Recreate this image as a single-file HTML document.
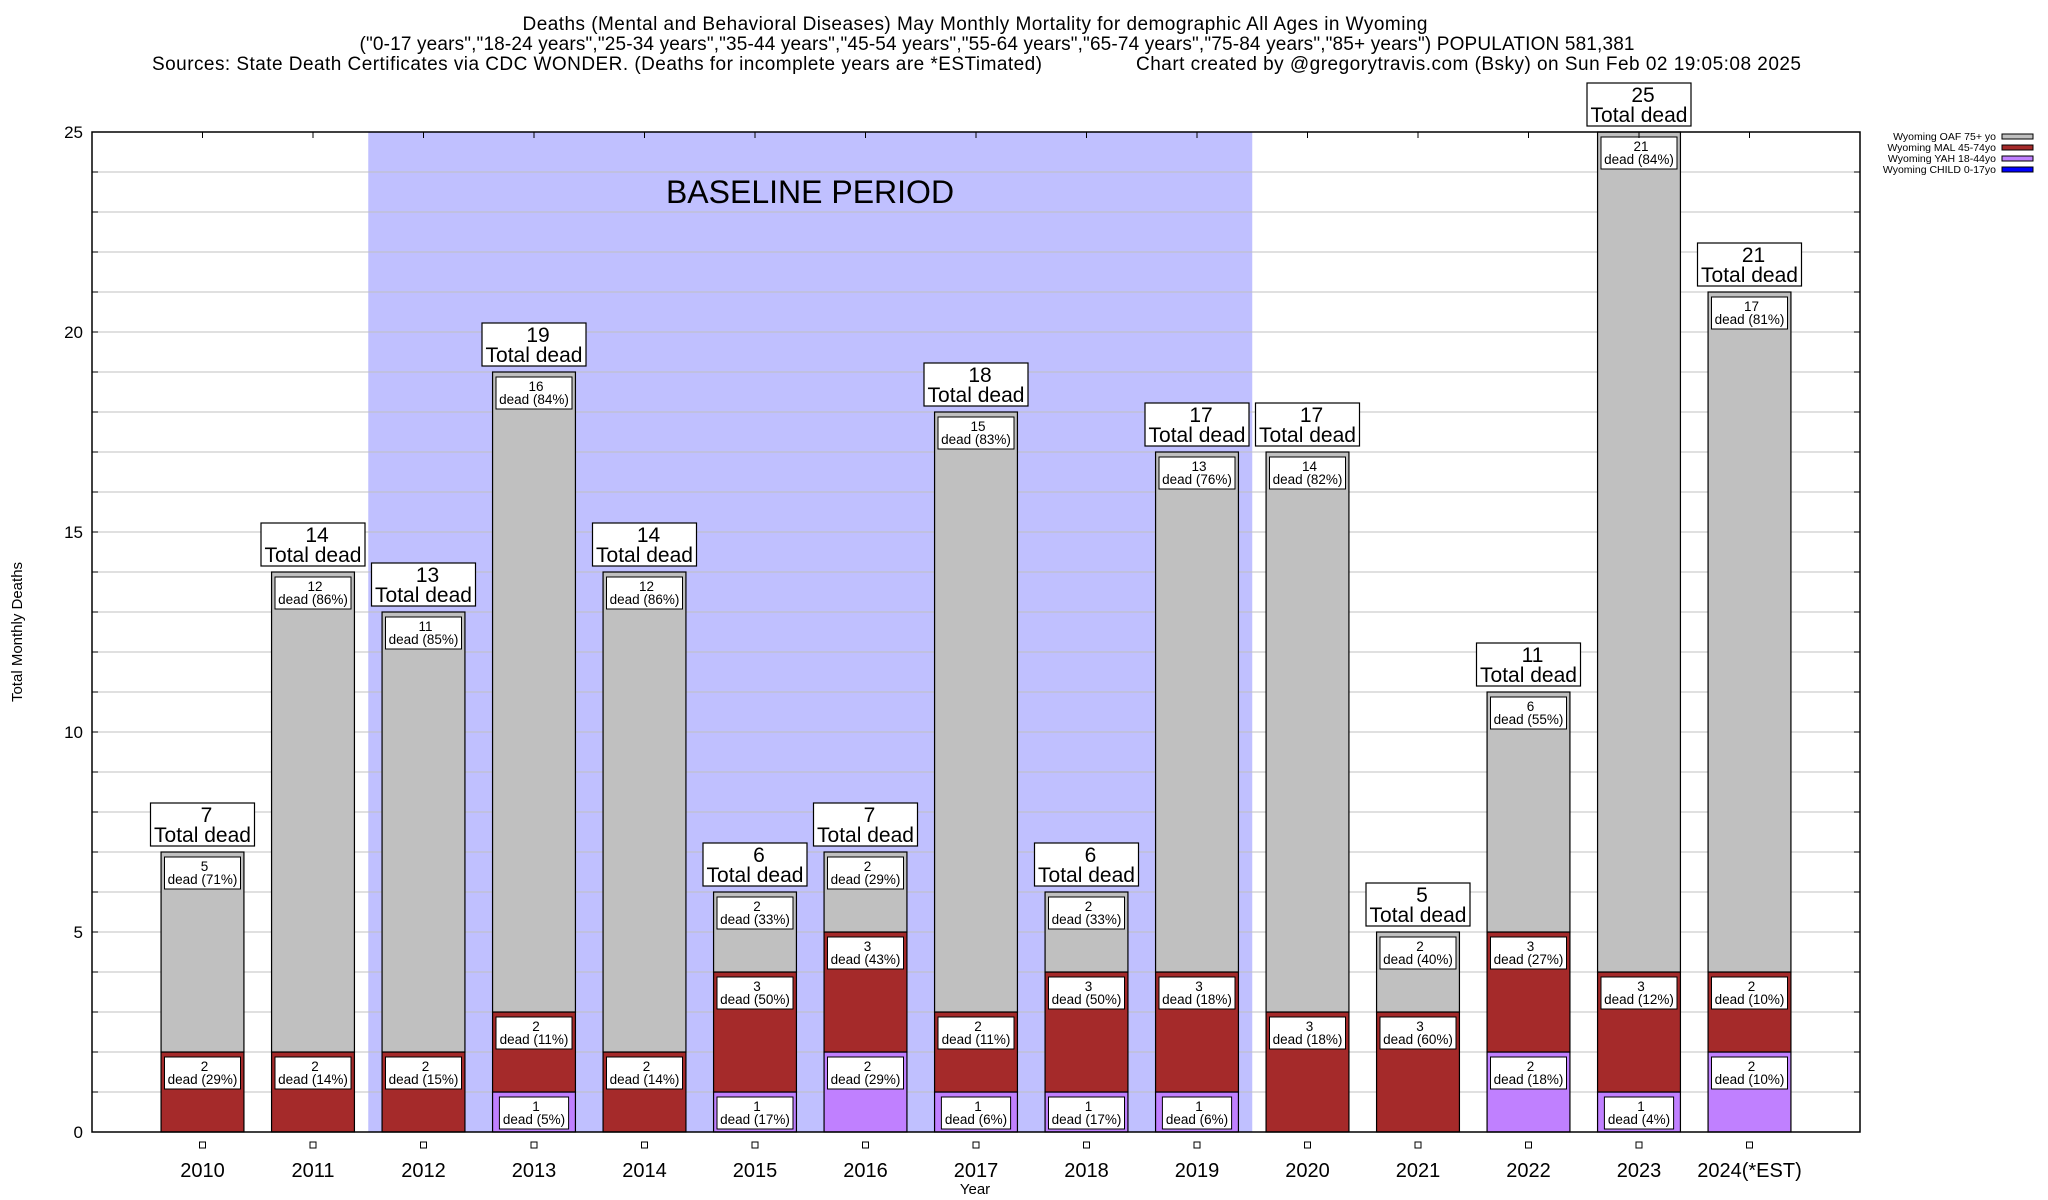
<!DOCTYPE html>
<html><head><meta charset="utf-8"><style>
html,body{margin:0;padding:0;background:#fff;}
svg{display:block;font-family:"Liberation Sans",Arial,sans-serif;}
</style></head><body>
<svg id="chart" width="2048" height="1200" viewBox="0 0 2048 1200">
<g>
<text x="975" y="30" text-anchor="middle" font-size="19" textLength="905">Deaths (Mental and Behavioral Diseases) May Monthly Mortality for demographic All Ages in Wyoming</text>
<text x="997" y="50" text-anchor="middle" font-size="19" textLength="1275">("0-17 years","18-24 years","25-34 years","35-44 years","45-54 years","55-64 years","65-74 years","75-84 years","85+ years") POPULATION 581,381</text>
<text x="152" y="70" font-size="19" textLength="890">Sources: State Death Certificates via CDC WONDER. (Deaths for incomplete years are *ESTimated)</text>
<text x="1136" y="70" font-size="19" textLength="665">Chart created by @gregorytravis.com (Bsky) on Sun Feb 02 19:05:08 2025</text>
</g>
<g id="plot"></g>
<text x="975" y="1194" text-anchor="middle" font-size="15">Year</text>
<text transform="translate(22,632) rotate(-90)" text-anchor="middle" font-size="15">Total Monthly Deaths</text>
<g>
<text x="1996" y="140" text-anchor="end" font-size="10.5">Wyoming OAF 75+ yo</text>
<rect x="2002" y="134" width="31" height="5" fill="#c0c0c0" stroke="#000"/>
<text x="1996" y="151" text-anchor="end" font-size="10.5">Wyoming MAL 45-74yo</text>
<rect x="2002" y="145" width="31" height="5" fill="#a52a2a" stroke="#000"/>
<text x="1996" y="162" text-anchor="end" font-size="10.5">Wyoming YAH 18-44yo</text>
<rect x="2002" y="156" width="31" height="5" fill="#c080ff" stroke="#000"/>
<text x="1996" y="173" text-anchor="end" font-size="10.5">Wyoming CHILD 0-17yo</text>
<rect x="2002" y="167" width="31" height="5" fill="#0000ff" stroke="#000"/>
</g>
</svg>
<script>
const years = ["2010","2011","2012","2013","2014","2015","2016","2017","2018","2019","2020","2021","2022","2023","2024(*EST)"];
const child = [0,0,0,0,0,0,0,0,0,0,0,0,0,0,0];
const yah = [0,0,0,1,0,1,2,1,1,1,0,0,2,1,2];
const mal = [2,2,2,2,2,3,3,2,3,3,3,3,3,3,2];
const oaf = [5,12,11,16,12,2,2,15,2,13,14,2,6,21,17];
const yTicks = [0,5,10,15,20,25];
const baselineRange = [1.5, 9.5];

const NS = "http://www.w3.org/2000/svg";
const L = 92, R = 1860, T = 132, B = 1132;
const yMax = 25;
function y(v){ return B - (v / yMax) * (B - T); }
function x(i){ return L + (i + 1) * (R - L) / 16; }
const step = (R - L) / 16, bw = step * 0.75;
const plot = document.getElementById('plot');
function el(tag, attrs, parent){
  const e = document.createElementNS(NS, tag);
  for (const k in attrs) e.setAttribute(k, attrs[k]);
  (parent || plot).appendChild(e);
  return e;
}

const shade = el('rect', {x: x(baselineRange[0]), y: T, width: x(baselineRange[1]) - x(baselineRange[0]), height: B - T, fill: '#c0c0ff'});



for (let v = 1; v < yMax; v++) {
  const g = el('line', {x1: L, x2: R, y1: y(v), y2: y(v), stroke: '#c0c0c0', 'stroke-width': 1});
  
  
  const t = el('line', {x1: L, x2: L + 6, y1: y(v), y2: y(v), stroke: '#000'});
  
  
  const t2 = el('line', {x1: R - 6, x2: R, y1: y(v), y2: y(v), stroke: '#000'});
  
  
}
const bl = el('text', {x: 810, y: 203, 'text-anchor': 'middle', 'font-size': 32});
bl.textContent = 'BASELINE PERIOD';



yTicks.forEach(v => {
  const t = el('text', {x: 83, y: y(v) + 6, 'text-anchor': 'end', 'font-size': 17});
  t.textContent = v;
  
  
});

const series = [
  {vals: child, color: '#0000ff', name: 'child'},
  {vals: yah, color: '#c080ff', name: 'yah'},
  {vals: mal, color: '#a52a2a', name: 'mal'},
  {vals: oaf, color: '#c0c0c0', name: 'oaf'}
];

years.forEach((yr, i) => {
  const cx = x(i);
  const total = series.reduce((s, se) => s + se.vals[i], 0);
  let acc = 0;
  const labels = [];
  series.forEach(se => {
    const v = se.vals[i];
    if (v > 0) {
      const r = el('rect', {x: cx - bw / 2, y: y(acc + v), width: bw, height: y(acc) - y(acc + v), fill: se.color, stroke: '#000', 'stroke-width': 1.2});
      
      
      labels.push({top: y(acc + v), v: v, pct: Math.round(v / total * 100), name: se.name});
    }
    acc += v;
  });
  labels.forEach(lb => {
    const txt2 = 'dead (' + lb.pct + '%)';
    const w = txt2.length * 6.8 + 8;
    const bx = el('rect', {x: cx - w / 2, y: lb.top + 5, width: w, height: 32, fill: '#fff', stroke: '#000', 'stroke-width': 1});
    
    
    const t1 = el('text', {x: cx + 2, y: lb.top + 19, 'text-anchor': 'middle', 'font-size': 13.5});
    t1.textContent = lb.v;
    
    
    const t2 = el('text', {x: cx, y: lb.top + 32, 'text-anchor': 'middle', 'font-size': 13.5});
    t2.textContent = txt2;
    
    
  });
  const top = y(total);
  const tb = el('rect', {x: cx - 52, y: top - 49, width: 104, height: 43, fill: '#fff', stroke: '#000', 'stroke-width': 1.2});
  
  
  const tt1 = el('text', {x: cx + 4, y: top - 30, 'text-anchor': 'middle', 'font-size': 21});
  tt1.textContent = total;
  
  
  const tt2 = el('text', {x: cx, y: top - 10, 'text-anchor': 'middle', 'font-size': 21});
  tt2.textContent = 'Total dead';
  
  

  const tk = el('line', {x1: cx, x2: cx, y1: T, y2: T + 6, stroke: '#000'});
  
  
  const sq = el('rect', {x: cx - 3, y: 1142, width: 6, height: 6, fill: '#fff', stroke: '#000', 'stroke-width': 1});
  
  
  const xl = el('text', {x: cx, y: 1177, 'text-anchor': 'middle', 'font-size': 20});
  xl.textContent = yr;
  
  
});

const frame = el('rect', {x: L, y: T, width: R - L, height: B - T, fill: 'none', stroke: '#000', 'stroke-width': 1.5});


</script>
</body></html>
